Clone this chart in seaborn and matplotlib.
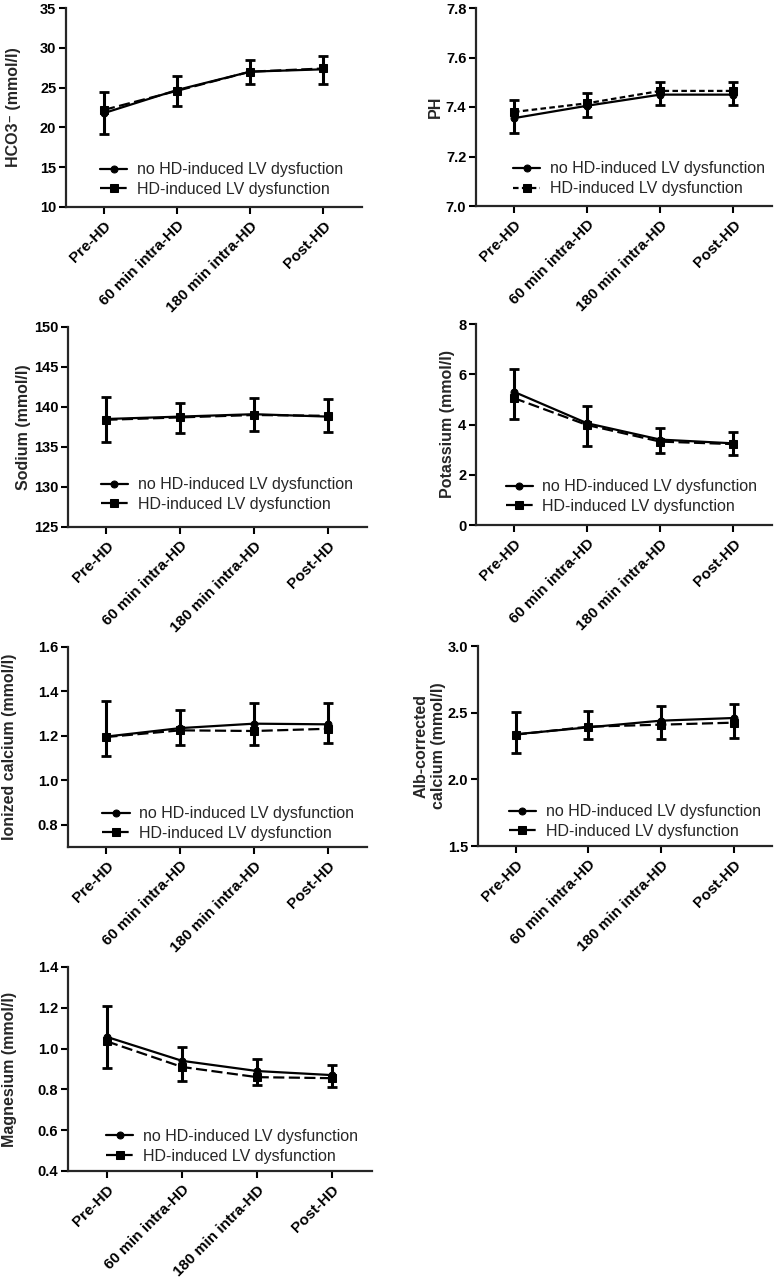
import numpy as np
import matplotlib
matplotlib.use("Agg")
import matplotlib.pyplot as plt
import seaborn as sns
from matplotlib.ticker import FormatStrFormatter

# === STYLE CONFIGURATION ===
sns.set_style("ticks")
plt.rcParams["font.family"] = ["Liberation Sans", "DejaVu Sans"]
plt.rcParams["font.weight"] = "bold"
plt.rcParams["axes.labelweight"] = "bold"

# === DATA ===
timepoints = ["Pre-HD", "60 min intra-HD", "180 min intra-HD", "Post-HD"]

hco3_no = [21.8, 24.7, 27.0, 27.3]
hco3_hd = [22.2, 24.6, 27.0, 27.4]
hco3_no_up = [2.7, 1.8, 1.5, 1.7]
hco3_hd_down = [3.0, 1.9, 1.6, 1.9]

ph_no = [7.355, 7.405, 7.45, 7.45]
ph_hd = [7.38, 7.415, 7.465, 7.465]
ph_no_up = [0.073, 0.05, 0.05, 0.05]
ph_hd_down = [0.085, 0.055, 0.055, 0.055]

na_no = [138.5, 138.8, 139.1, 138.8]
na_hd = [138.4, 138.7, 139.0, 138.9]
na_no_up = [2.7, 1.7, 2.0, 2.2]
na_hd_down = [2.8, 2.0, 2.0, 2.0]

k_no = [5.3, 4.05, 3.4, 3.25]
k_hd = [5.05, 3.98, 3.32, 3.22]
k_no_up = [0.9, 0.7, 0.45, 0.45]
k_hd_down = [0.85, 0.83, 0.47, 0.42]

ica_no = [1.197, 1.235, 1.255, 1.252]
ica_hd = [1.195, 1.225, 1.222, 1.232]
ica_no_up = [0.158, 0.08, 0.095, 0.098]
ica_hd_down = [0.085, 0.065, 0.062, 0.062]

alb_no = [2.338, 2.39, 2.44, 2.46]
alb_hd = [2.335, 2.395, 2.41, 2.425]
alb_no_up = [0.17, 0.12, 0.11, 0.105]
alb_hd_down = [0.14, 0.095, 0.11, 0.115]

mg_no = [1.057, 0.94, 0.89, 0.87]
mg_hd = [1.035, 0.91, 0.86, 0.855]
mg_no_up = [0.15, 0.07, 0.06, 0.05]
mg_hd_down = [0.13, 0.07, 0.04, 0.045]

label_no = "no HD-induced LV dysfunction"
label_no_typo = "no HD-induced LV dysfuction"
label_hd = "HD-induced LV dysfunction"

panels = [
    dict(ylabel="HCO3\u207b (mmol/l)", no=hco3_no, hd=hco3_hd, up=hco3_no_up, down=hco3_hd_down,
         ylim=(10, 35), yticks=[10, 15, 20, 25, 30, 35], fmt="%d", lab=label_no_typo),
    dict(ylabel="PH", no=ph_no, hd=ph_hd, up=ph_no_up, down=ph_hd_down,
         ylim=(7.0, 7.8), yticks=[7.0, 7.2, 7.4, 7.6, 7.8], fmt="%.1f", lab=label_no),
    dict(ylabel="Sodium (mmol/l)", no=na_no, hd=na_hd, up=na_no_up, down=na_hd_down,
         ylim=(125, 150), yticks=[125, 130, 135, 140, 145, 150], fmt="%d", lab=label_no),
    dict(ylabel="Potassium (mmol/l)", no=k_no, hd=k_hd, up=k_no_up, down=k_hd_down,
         ylim=(0, 8), yticks=[0, 2, 4, 6, 8], fmt="%d", lab=label_no),
    dict(ylabel="Ionized calcium (mmol/l)", no=ica_no, hd=ica_hd, up=ica_no_up, down=ica_hd_down,
         ylim=(0.7, 1.6), yticks=[0.8, 1.0, 1.2, 1.4, 1.6], fmt="%.1f", lab=label_no),
    dict(ylabel="Alb-corrected\ncalcium (mmol/l)", no=alb_no, hd=alb_hd, up=alb_no_up, down=alb_hd_down,
         ylim=(1.5, 3.0), yticks=[1.5, 2.0, 2.5, 3.0], fmt="%.1f", lab=label_no),
    dict(ylabel="Magnesium (mmol/l)", no=mg_no, hd=mg_hd, up=mg_no_up, down=mg_hd_down,
         ylim=(0.4, 1.4), yticks=[0.4, 0.6, 0.8, 1.0, 1.2, 1.4], fmt="%.1f", lab=label_no),
]

# --- layout (pixels): axes boxes left, top, right, bottom ---
W, H = 783, 1277
boxes = [
    (66, 8, 362, 207), (476, 8, 772, 206),
    (68, 327, 367, 527), (476, 324, 772, 525),
    (68, 647, 367, 847), (478, 646, 772, 846),
    (68, 967, 372, 1171),
]
ylabel_right_px = [21, 443, 31, 455, 17, 446, 17]
legend_anchor = [(0.115, 0.05), (0.125, 0.05), (0.11, 0.075), (0.10, 0.055),
                 (0.115, 0.03), (0.105, 0.035), (0.125, 0.035)]
dash_styles = [(5, 2), (2.5, 1.5), (5, 2), (5, 2), (5, 2), (5, 2), (5, 2)]

fig = plt.figure(figsize=(W / 100, H / 100), dpi=100)

for p, (l, t, r, b), lx, anc, dsh in zip(panels, boxes, ylabel_right_px, legend_anchor, dash_styles):
    ax = fig.add_axes([l / W, 1 - b / H, (r - l) / W, (b - t) / H])

    # error bars: upper half for one group, lower half for the other
    zeros = [0] * len(timepoints)
    _, caps, _ = ax.errorbar(timepoints, p["no"], yerr=[zeros, p["up"]], fmt="none",
                             ecolor="black", elinewidth=2.2, capsize=3.5, capthick=2, zorder=2)
    caps[0].set_visible(False)
    _, caps, _ = ax.errorbar(timepoints, p["hd"], yerr=[p["down"], zeros], fmt="none",
                             ecolor="black", elinewidth=2.2, capsize=3.5, capthick=2, zorder=2)
    caps[1].set_visible(False)

    sns.lineplot(x=timepoints, y=p["no"], sort=False, color="black", marker="o",
                 markersize=5, markeredgecolor="black", linewidth=1.6, label=p["lab"], ax=ax, zorder=3)
    sns.lineplot(x=timepoints, y=p["hd"], sort=False, color="black", marker="s",
                 markersize=5.5, markeredgecolor="black", linewidth=1.6,
                 linestyle=(0, dsh), label=label_hd, ax=ax, zorder=3)

    ax.set_xlim(-0.52, 3.53)
    ax.set_ylim(*p["ylim"])
    ax.set_yticks(p["yticks"])
    ax.yaxis.set_major_formatter(FormatStrFormatter(p["fmt"]))
    ax.set_ylabel(p["ylabel"], fontsize=11.5, fontweight="bold")
    ax.yaxis.set_label_coords((lx - l) / (r - l), 0.5)
    ax.set_xlabel("")

    sns.despine(ax=ax)
    for s in ["left", "bottom"]:
        ax.spines[s].set_linewidth(1.6)
    ax.tick_params(axis="both", direction="out", length=5, width=1.5, colors="black")
    ax.tick_params(axis="y", labelsize=10.5, pad=2)
    ax.tick_params(axis="x", labelsize=11)
    plt.setp(ax.get_xticklabels(), rotation=45, ha="right", rotation_mode="anchor")

    ax.legend(loc="lower left", bbox_to_anchor=anc, frameon=False, borderpad=0,
              borderaxespad=0, handlelength=1.7, handletextpad=0.6, labelspacing=0.3,
              prop={"size": 11.5, "weight": "normal"})

fig.savefig("out.png", dpi=100)
